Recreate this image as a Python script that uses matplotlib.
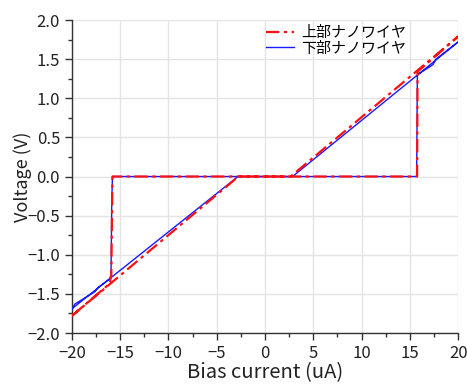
import matplotlib
matplotlib.use("Agg")
import numpy as np
import matplotlib.pyplot as plt
from matplotlib.ticker import MultipleLocator

plt.rcParams['font.family'] = ['Noto Sans CJK JP', 'DejaVu Sans']

# I-V sweeps (current in uA, voltage in V)
upper_label = "上部ナノワイヤ"
lower_label = "下部ナノワイヤ"

# upper nanowire: sweep up (-20 -> 20) then sweep down (20 -> -20)
upper_I = [-20.0, -16.1, -15.92, -15.85, -15.8, 15.75, 15.8, 20.0,
           2.65, -2.75, -20.0]
upper_V = [-1.78, -1.37, -1.26, -0.5, 0.0, 0.0, 1.34, 1.79,
           0.0, 0.0, -1.78]

# lower nanowire
lower_I = [-20.0, -19.7, -17.6, -17.3, -16.1, -15.95, -15.87, -15.8,
           15.7, 15.78, 17.4, 17.7, 20.0,
           2.85, -2.8, -20.0]
lower_V = [-1.70, -1.63, -1.47, -1.42, -1.31, -1.26, -0.3, 0.0,
           0.0, 1.30, 1.43, 1.50, 1.72,
           0.0, 0.0, -1.69]

xticks = np.arange(-20, 21, 5)
yticks = np.arange(-2.0, 2.01, 0.5)

fig = plt.figure(figsize=(4.67, 3.85), dpi=100)
ax = fig.add_axes([0.154, 0.135, 0.827, 0.813])

ax.plot(lower_I, lower_V, color="#1a1aff", lw=1.0, label=lower_label, zorder=3)
ax.plot(upper_I, upper_V, color="#ff1010", lw=1.6, ls=(0, (6, 2, 1.5, 2)),
        label=upper_label, zorder=4)

ax.set_xlim(-20, 20)
ax.set_ylim(-2.0, 2.0)
ax.xaxis.set_minor_locator(MultipleLocator(2.5))
ax.yaxis.set_minor_locator(MultipleLocator(0.25))
ax.set_yticks(yticks)
ax.set_yticklabels([f"{v:.1f}".replace("-", "\u2212") for v in yticks])
ax.set_xticks(xticks)
ax.set_xticklabels([str(v).replace("-", "\u2212") for v in xticks])

ax.grid(which="major", color="#e4e4e4", lw=1.0)
ax.set_axisbelow(True)
for s in ("top", "right"):
    ax.spines[s].set_visible(False)
for s in ("left", "bottom"):
    ax.spines[s].set_color("#333333")
    ax.spines[s].set_linewidth(1.0)
ax.tick_params(which="major", direction="out", length=5, width=1.0,
               color="#333333", labelsize=12, labelcolor="#222222")
ax.tick_params(which="minor", direction="out", length=3, width=1.0, color="#333333")

ax.set_xlabel("Bias current (uA)", fontsize=14.5, color="#222222", labelpad=0)
ax.set_ylabel("Voltage (V)", fontsize=13, color="#222222", labelpad=-3)

h, l = ax.get_legend_handles_labels()
leg = ax.legend(h[::-1], l[::-1], loc="upper right", bbox_to_anchor=(0.88, 1.0),
                frameon=False, fontsize=10.8, handlelength=1.9, handletextpad=0.45,
                labelspacing=0.1, borderaxespad=0.0)

fig.savefig("out.png", dpi=100)
